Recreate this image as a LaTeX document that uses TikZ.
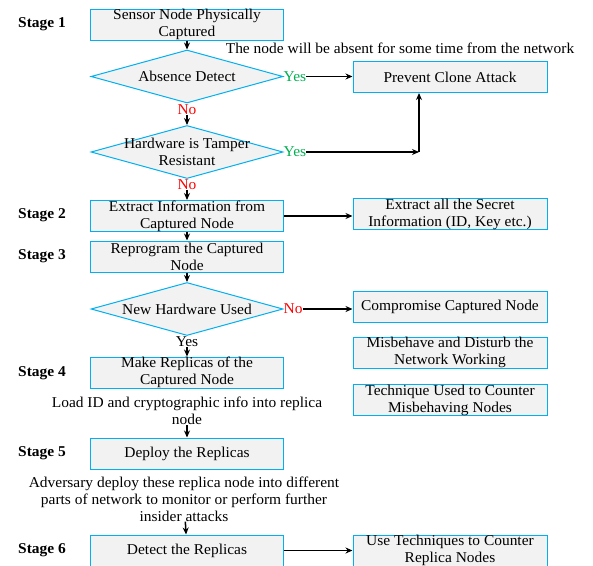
\documentclass[tikz,border=0pt]{standalone}
\usepackage{fontspec}
\setmainfont{Liberation Serif}[FakeStretch=1.03]
\usetikzlibrary{shapes.geometric,arrows.meta}
\definecolor{boxblue}{HTML}{00B0F0}
\definecolor{boxgray}{HTML}{F2F2F2}
\definecolor{yesgreen}{HTML}{00B050}
\definecolor{nored}{HTML}{FF0000}
\tikzset{
  every node/.style={font=\fontsize{15}{17}\selectfont},
  procbox/.style={draw=boxblue, fill=boxgray, line width=1pt, minimum width=193pt, minimum height=31pt, inner sep=0pt, align=center},
  sidebox/.style={draw=boxblue, fill=boxgray, line width=1pt, minimum width=194pt, minimum height=31pt, inner sep=0pt, align=center},
  decbox/.style={diamond, draw=boxblue, fill=boxgray, line width=1pt, minimum width=192pt, minimum height=53pt, inner sep=0pt},
  stagelbl/.style={font=\fontsize{15}{17}\selectfont\bfseries, inner sep=0pt},
  note/.style={inner sep=0pt, align=center},
  yeslbl/.style={text=yesgreen, inner sep=0pt},
  nolbl/.style={text=nored, inner sep=0pt},
  arr/.style={-{Stealth[length=7pt,width=6pt]}, line width=1.5pt, black},
}
\begin{document}
\begin{tikzpicture}[x=1pt,y=-1pt]
\useasboundingbox (0,0) rectangle (593,565);

% stage labels
\node[stagelbl] (s1) at (42,24) {Stage 1};
\node[stagelbl] (s2) at (42,215) {Stage 2};
\node[stagelbl] (s3) at (42,256) {Stage 3};
\node[stagelbl] (s4) at (42,373) {Stage 4};
\node[stagelbl] (s5) at (42,453) {Stage 5};
\node[stagelbl] (s6) at (42,550) {Stage 6};

% main column
\node[procbox] (b1) at (187,24.5) {Sensor Node Physically\\Captured};
\node[decbox, label={center:Absence Detect}] (d1) at (187,76.5) {};
\node[nolbl] (no1) at (187,110) {No};
\node[decbox, label={[align=center]center:Hardware is Tamper\\Resistant}] (d2) at (187,152) {};
\node[nolbl] (no2) at (187,185) {No};
\node[procbox] (b2) at (187,216) {Extract Information from\\Captured Node};
\node[procbox] (b3) at (187,256.5) {Reprogram the Captured\\Node};
\node[decbox, label={center:New Hardware Used}] (d3) at (187,309) {};
\node[inner sep=0pt] (yes3) at (187,342) {Yes};
\node[procbox] (b4) at (187,372.5) {Make Replicas of the\\Captured Node};
\node[note] (load) at (187,411) {Load ID and cryptographic info into replica\\node};
\node[procbox] (b5) at (187,453.5) {Deploy the Replicas};
\node[note] (adv) at (184,499) {Adversary deploy these replica node into different\\parts of network to monitor or perform further\\insider attacks};
\node[procbox] (b6) at (187,550.5) {Detect the Replicas};

% right column
\node[note] (absent) at (400,48) {The node will be absent for some time from the network};
\node[sidebox] (prevent) at (450,77) {Prevent Clone Attack};
\node[sidebox] (secret) at (450,214) {Extract all the Secret\\Information (ID, Key etc.)};
\node[sidebox] (comp) at (450,307) {Compromise Captured Node};
\node[sidebox] (misb) at (450,352.5) {Misbehave and Disturb the\\Network Working};
\node[sidebox] (tech) at (450,400) {Technique Used to Counter\\Misbehaving Nodes};
\node[sidebox] (use) at (450,550.5) {Use Techniques to Counter\\Replica Nodes};

\node[yeslbl, anchor=west] (yes1) at (d1.east) {Yes};
\node[yeslbl, anchor=west] (yes2) at (d2.east) {Yes};
\node[nolbl, anchor=west] (no3) at (d3.east) {No};
\coordinate (c1) at (419,152);

% connectors
\draw[arr] (b1) -- (d1);
\draw[arr] (no1) -- (d2);
\draw[arr] (no2) -- (b2);
\draw[arr] (b2) -- (b3);
\draw[arr] (b3) -- (d3);
\draw[arr] (yes3) -- (b4);
\draw[arr] (load) -- (b5);
\draw[arr] (adv) -- (b6);
\draw[arr] (yes1) -- (yes1 -| prevent.west);
\draw[arr] (yes2) -- (c1);
\draw[arr] (c1) -- (c1 |- prevent.south);
\draw[arr] (b2.east) -- (b2.east -| secret.west);
\draw[arr] (no3) -- (no3 -| comp.west);
\draw[arr] (b6.east) -- (b6.east -| use.west);
\end{tikzpicture}
\end{document}
